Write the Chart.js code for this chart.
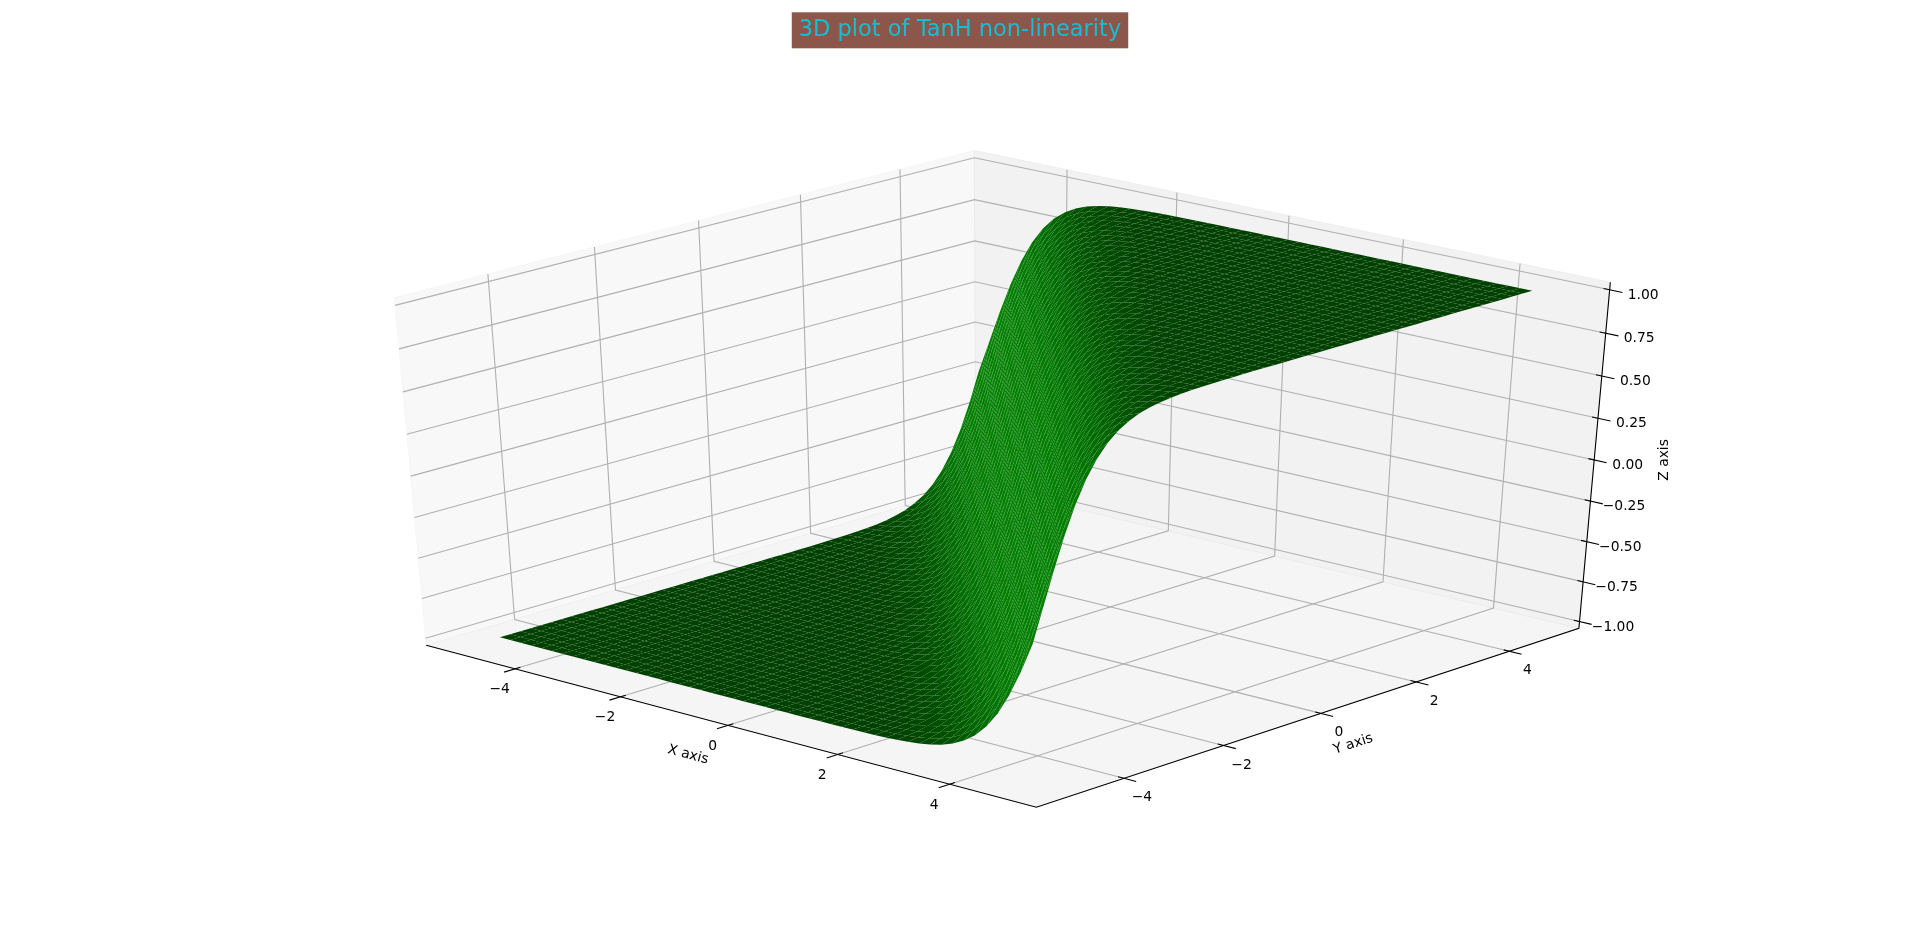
<!DOCTYPE html>
<html>
<head>
<meta charset="utf-8">
<style>html,body{margin:0;padding:0;background:#fff;overflow:hidden}canvas{display:block}</style>
<script src="https://cdn.jsdelivr.net/npm/chart.js@4/dist/chart.umd.min.js"></script>
</head>
<body>
<canvas id="c" width="1920" height="946"></canvas>
<script>
const titleText = "3D plot of TanH non-linearity";
const xTicks = [-4, -2, 0, 2, 4];
const yTicks = [-4, -2, 0, 2, 4];
const zTicks = [-1, -0.75, -0.5, -0.25, 0, 0.25, 0.5, 0.75, 1];
const xTickLabels = ["\u22124", "\u22122", "0", "2", "4"];
const yTickLabels = ["\u22124", "\u22122", "0", "2", "4"];
const zTickLabels = ["\u22121.00", "\u22120.75", "\u22120.50", "\u22120.25", "0.00", "0.25", "0.50", "0.75", "1.00"];
const xLim = [-5.72, 5.52];
const yLim = [-5.72, 5.52];
const zLim = [-1.0435, 1.0435];
const meshGrid = [
-5.0,-4.8,-4.6,-4.4,-4.2,-4.0,-3.8,-3.6,-3.4,-3.2,-3.0,-2.8,-2.6,-2.4,-2.2,-2.0,-1.8,-1.6,-1.4,-1.2,
-1.0,-0.8,-0.6,-0.4,-0.2,0,0.2,0.4,0.6,0.8,1.0,1.2,1.4,1.6,1.8,2.0,2.2,2.4,2.6,2.8,
3.0,3.2,3.4,3.6,3.8,4.0,4.2,4.4,4.6,4.8];
// surface height by (column + row) position along the mesh diagonal
const zValues = [
-1,-1,-1,-1,-1,-1,-1,-1,-1,-1,-1,-1,-1,-1,-1,-1,-1,-1,-1,-1,-1,-1,-1,-1,-1,
-.9999,-.9999,-.9998,-.9997,-.9996,-.9993,-.9990,-.9985,-.9978,-.9967,
-.9951,-.9926,-.9890,-.9837,-.9757,-.9640,-.9468,-.9217,-.8854,-.8337,
-.7616,-.6640,-.5370,-.3799,-.1974,
0,
.1974,.3799,.5370,.6640,.7616,.8337,.8854,.9217,.9468,.9640,
.9757,.9837,.9890,.9926,.9951,.9967,.9978,.9985,.9990,.9993,
.9996,.9997,.9998,.9999,.9999,
1,1,1,1,1,1,1,1,1,1,1,1,1,1,1,1,1,1,1,1,1,1,1];

// camera of the 3D view
const ELEV = 32.3 * Math.PI / 180, AZIM = 48 * Math.PI / 180, DIST = 10;
const se = Math.sin(ELEV), ce = Math.cos(ELEV), sa = Math.sin(AZIM), ca = Math.cos(AZIM);
const W = [ce * ca, -ce * sa, se], U = [sa, ca, 0], V = [-se * ca, se * sa, ce];
const dot = (a, b) => a[0]*b[0] + a[1]*b[1] + a[2]*b[2];
function projUnit(ux, uy, uz) {
  const p = [ux - .5, uy - .5, uz - .5];
  const d = DIST - dot(W, p);
  return { x: dot(U, p) / d, y: dot(V, p) / d };
}
const unit = (v, lim) => (v - lim[0]) / (lim[1] - lim[0]);
const proj = (x, y, z) => projUnit(unit(x, xLim), unit(y, yLim), unit(z, zLim));

const titleSize = 22.5, titlePad = { top: 17, bottom: 7 };
const titleH = titlePad.top + titleSize * 1.2 + titlePad.bottom;
const SX = 8380, SY = 4100, CX = 1004.3, CY = 468;

const layers = [];
const poly = (pts, fillC, lineC, lw) => layers.push({
  data: pts, showLine: true, pointRadius: 0, pointHoverRadius: 0,
  fill: fillC ? 'shape' : false, backgroundColor: fillC || 'transparent',
  borderColor: lineC || 'transparent', borderWidth: lw || 0, tension: 0
});
const [x0, x1] = xLim, [y0, y1] = yLim, [z0, z1] = zLim;

// panes
poly([proj(x0,y0,z0), proj(x0,y1,z0), proj(x0,y1,z1), proj(x0,y0,z1), proj(x0,y0,z0)], 'rgba(242,242,242,.5)', 'rgba(242,242,242,.5)', 1);
poly([proj(x0,y1,z0), proj(x1,y1,z0), proj(x1,y1,z1), proj(x0,y1,z1), proj(x0,y1,z0)], 'rgba(230,230,230,.5)', 'rgba(230,230,230,.5)', 1);
poly([proj(x0,y0,z0), proj(x1,y0,z0), proj(x1,y1,z0), proj(x0,y1,z0), proj(x0,y0,z0)], 'rgba(236,236,236,.5)', 'rgba(236,236,236,.5)', 1);

// grid
const GRID = '#b0b0b0', GW = 1.1;
xTicks.forEach(x => poly([proj(x,y0,z0), proj(x,y1,z0), proj(x,y1,z1)], null, GRID, GW));
yTicks.forEach(y => poly([proj(x1,y,z0), proj(x0,y,z0), proj(x0,y,z1)], null, GRID, GW));
zTicks.forEach(z => poly([proj(x0,y0,z), proj(x0,y1,z), proj(x1,y1,z)], null, GRID, GW));

// axis lines and tick marks
const AW = 1.1;
poly([proj(x0,y0,z0), proj(x1,y0,z0), proj(x1,y1,z0), proj(x1,y1,z1)], null, '#000', AW);
const OUT = .019, IN = .009;
const dy = y1 - y0, dx = x1 - x0;
xTicks.forEach(x => poly([proj(x, y0 - OUT*dy, z0), proj(x, y0 + IN*dy, z0)], null, '#000', AW));
yTicks.forEach(y => poly([proj(x1 + OUT*dx, y, z0), proj(x1 - IN*dx, y, z0)], null, '#000', AW));
zTicks.forEach(z => poly([proj(x1 + OUT*dx, y1, z), proj(x1 - IN*dx, y1, z)], null, '#000', AW));

// surface: quads on the same mesh diagonal share one shade, so one dataset holds them
const N = meshGrid.length - 1;
const slopeShade = k => {
  const a = (zValues[k + 2] - zValues[k]) / (meshGrid[1] - meshGrid[0]) / 2;
  return (2 * a + .5) / Math.sqrt(2 * a * a + 1);
};
const shades = [];
for (let k = 0; k <= 2 * N - 2; k++) shades.push(slopeShade(k));
const sMin = Math.min(...shades), sMax = Math.max(...shades);
for (let k = 2 * N - 2; k >= 0; k--) {
  const pts = [];
  for (let i = Math.max(0, k - N + 1); i < N && i <= k; i++) {
    const j = k - i;
    pts.push(
      proj(meshGrid[i], meshGrid[j], zValues[k]),
      proj(meshGrid[i + 1], meshGrid[j], zValues[k + 1]),
      proj(meshGrid[i + 1], meshGrid[j + 1], zValues[k + 2]),
      proj(meshGrid[i], meshGrid[j + 1], zValues[k + 1]),
      { x: null, y: null }
    );
  }
  const b = .5 + .5 * (shades[k] - sMin) / (sMax - sMin);
  poly(pts, `rgb(0,${Math.round(128 * b)},0)`, null, 0);
}

const FONT = '13.89px "DejaVu Sans"';
const textPlugin = {
  id: 'axisText',
  beforeDraw(chart) {
    const ctx = chart.ctx;
    ctx.save();
    ctx.font = `${titleSize}px "DejaVu Sans"`;
    const w = ctx.measureText(titleText).width + 14;
    ctx.fillStyle = '#8c564b';
    ctx.fillRect(960 - w / 2, 12.3, w, 36);
    ctx.restore();
  },
  afterDraw(chart) {
    const { ctx, scales: { x: sx, y: sy } } = chart;
    const px = p => [sx.getPixelForValue(p.x), sy.getPixelForValue(p.y)];
    const put = (t, p, ox, oy, rot) => {
      const [a, b] = px(p);
      ctx.save();
      ctx.translate(a + ox, b + oy);
      if (rot) ctx.rotate(rot * Math.PI / 180);
      ctx.fillText(t, 0, 0);
      ctx.restore();
    };
    ctx.save();
    ctx.font = FONT; ctx.fillStyle = '#000'; ctx.textAlign = 'center'; ctx.textBaseline = 'middle';
    xTicks.forEach((v, i) => put(xTickLabels[i], proj(v, y0, z0), -15.5, 21));
    yTicks.forEach((v, i) => put(yTickLabels[i], proj(x1, v, z0), 18, 19.5));
    zTicks.forEach((v, i) => put(zTickLabels[i], proj(x1, y1, v), 33.5, 5.5));
    put('X axis', proj(0, y0, z0), -40, 29.5, 15);
    put('Y axis', proj(x1, 0, z0), 32.3, 30.7, -18);
    put('Z axis', proj(x1, y1, 0), 70, 0, -90);
    ctx.restore();
  }
};

new Chart(document.getElementById('c'), {
  type: 'scatter',
  data: { datasets: layers.reverse() },
  options: {
    responsive: false, animation: false, events: [],
    devicePixelRatio: 1,
    layout: { padding: 0 },
    scales: {
      x: { type: 'linear', display: false, min: (0 - CX) / SX, max: (1920 - CX) / SX },
      y: { type: 'linear', display: false, min: (CY - 946) / SY, max: (CY - titleH) / SY }
    },
    plugins: {
      legend: { display: false }, tooltip: { enabled: false },
      title: { display: true, text: titleText, color: '#17becf',
        font: { family: '"DejaVu Sans"', size: titleSize, weight: 'normal', lineHeight: 1.2 },
        padding: titlePad }
    }
  },
  plugins: [textPlugin]
});
</script>
</body>
</html>
